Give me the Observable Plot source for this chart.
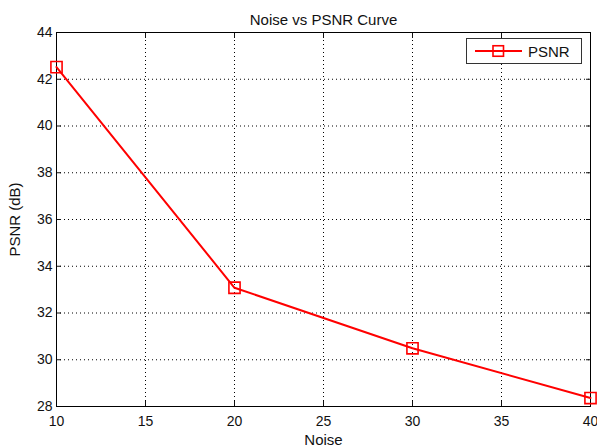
<!DOCTYPE html>
<html><head>
<meta charset="utf-8">
<script src="https://cdn.jsdelivr.net/npm/d3@7"></script>
<script src="https://cdn.jsdelivr.net/npm/@observablehq/plot@0.6"></script>
<style>
body{margin:0;background:#fff;font-family:"Liberation Sans",Arial,sans-serif}
#wrap{position:relative;width:597px;height:446px}
#legend{position:absolute;left:466px;top:38px;width:116px;height:26px;border:1px solid #333;background:#fff;box-sizing:border-box;display:flex;align-items:center;font-size:15px;color:#111}
#legend svg{margin-left:8px;margin-right:6px}
</style>
</head><body>
<div id="wrap"><div id="chart"></div>
<div id="legend"><svg width="47" height="14"><line x1="0" y1="7" x2="47" y2="7" stroke="#f00" stroke-width="2"/><rect x="18" y="1.75" width="10.5" height="10.5" fill="none" stroke="#f00" stroke-width="1.6"/></svg><span>PSNR</span></div>
</div>
<script>
const noise = [10, 20, 30, 40];
const psnr = [42.52, 33.08, 30.49, 28.36];
const xTicks = [10, 15, 20, 25, 30, 35, 40];
const yTicks = [28, 30, 32, 34, 36, 38, 40, 42, 44];
const title = "Noise vs PSNR Curve";
const xLabel = "Noise";
const yLabel = "PSNR (dB)";

const data = noise.map((n, i) => ({noise: n, psnr: psnr[i]}));
const xInner = xTicks.slice(1, -1);
const yInner = yTicks.slice(1, -1);

const chart = Plot.plot({
  width: 597,
  height: 446,
  marginLeft: 56,
  marginRight: 7,
  marginTop: 32,
  marginBottom: 40,
  style: {fontFamily: '"Liberation Sans", Arial, sans-serif', fontSize: "14px", color: "#111", background: "#fff"},
  x: {domain: [10, 40]},
  y: {domain: [28, 44]},
  marks: [
    Plot.ruleX(xInner, {x: d => d, stroke: "#000", strokeDasharray: "1,3", strokeWidth: 1}),
    Plot.ruleY(yInner, {y: d => d, stroke: "#000", strokeDasharray: "1,3", strokeWidth: 1}),
    Plot.axisX({anchor: "bottom", ticks: xTicks, tickSize: -5, tickPadding: 15, fontSize: 14, label: null}),
    Plot.axisX({anchor: "bottom", ticks: [], label: xLabel, labelAnchor: "center", labelOffset: 38, labelArrow: "none", fontSize: 15}),
    Plot.axisX({anchor: "top", ticks: xTicks, tickSize: -5, tickFormat: () => "", label: null}),
    Plot.axisY({anchor: "left", ticks: yTicks, tickSize: -5, tickPadding: 9, fontSize: 14, label: null}),
    Plot.axisY({anchor: "left", ticks: [], label: yLabel, labelAnchor: "center", labelOffset: 47, labelArrow: "none", fontSize: 15}),
    Plot.axisY({anchor: "right", ticks: yTicks, tickSize: -5, tickFormat: () => "", label: null}),
    Plot.frame({stroke: "#000", strokeWidth: 1}),
    Plot.line(data, {x: "noise", y: "psnr", stroke: "#f00", strokeWidth: 2}),
    Plot.dot(data, {x: "noise", y: "psnr", symbol: "square", r: 6.3, stroke: "#f00", strokeWidth: 1.6, fill: "none"}),
    Plot.text([title], {frameAnchor: "top", dy: -18, fontSize: 15, fill: "#111"})
  ]
});
document.getElementById("chart").appendChild(chart);
</script>
</body></html>
